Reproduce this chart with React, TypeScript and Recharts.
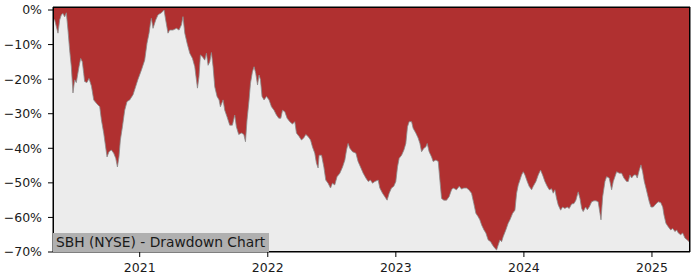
import { AreaChart, Area, XAxis, YAxis, ReferenceArea } from 'recharts';

// decimal year of each sample
const years = [
  2020.323, 2020.336, 2020.362, 2020.375, 2020.388, 2020.401, 2020.414, 2020.427, 2020.440, 2020.453,
  2020.466, 2020.479, 2020.492, 2020.505, 2020.526, 2020.539, 2020.552, 2020.563, 2020.570, 2020.588,
  2020.604, 2020.623, 2020.641, 2020.662, 2020.688, 2020.701, 2020.719, 2020.734, 2020.745, 2020.760,
  2020.779, 2020.797, 2020.813, 2020.826, 2020.838, 2020.849, 2020.865, 2020.883, 2020.901, 2020.922,
  2020.948, 2020.961, 2020.987, 2021.013, 2021.039, 2021.057, 2021.073, 2021.084, 2021.091, 2021.104,
  2021.125, 2021.143, 2021.170, 2021.190, 2021.203, 2021.221, 2021.234, 2021.260, 2021.287, 2021.307,
  2021.326, 2021.338, 2021.352, 2021.370, 2021.391, 2021.412, 2021.430, 2021.451, 2021.463, 2021.474,
  2021.490, 2021.508, 2021.521, 2021.534, 2021.547, 2021.560, 2021.573, 2021.586, 2021.604, 2021.620,
  2021.630, 2021.651, 2021.664, 2021.682, 2021.703, 2021.724, 2021.742, 2021.755, 2021.773, 2021.795,
  2021.813, 2021.826, 2021.838, 2021.854, 2021.865, 2021.880, 2021.893, 2021.906, 2021.920, 2021.932,
  2021.943, 2021.955, 2021.971, 2021.990, 2022.010, 2022.029, 2022.049, 2022.068, 2022.086, 2022.102,
  2022.115, 2022.133, 2022.151, 2022.172, 2022.193, 2022.211, 2022.224, 2022.245, 2022.263, 2022.281,
  2022.297, 2022.315, 2022.334, 2022.349, 2022.367, 2022.380, 2022.393, 2022.401, 2022.420, 2022.438,
  2022.453, 2022.471, 2022.490, 2022.505, 2022.523, 2022.541, 2022.563, 2022.584, 2022.602, 2022.615,
  2022.627, 2022.641, 2022.662, 2022.688, 2022.705, 2022.724, 2022.745, 2022.766, 2022.784, 2022.802,
  2022.818, 2022.836, 2022.862, 2022.875, 2022.896, 2022.914, 2022.932, 2022.948, 2022.966, 2022.984,
  2023.000, 2023.013, 2023.026, 2023.045, 2023.063, 2023.078, 2023.091, 2023.104, 2023.123, 2023.135,
  2023.156, 2023.174, 2023.188, 2023.201, 2023.219, 2023.234, 2023.245, 2023.260, 2023.279, 2023.291,
  2023.313, 2023.331, 2023.344, 2023.357, 2023.375, 2023.396, 2023.416, 2023.435, 2023.448, 2023.474,
  2023.495, 2023.513, 2023.531, 2023.552, 2023.570, 2023.591, 2023.609, 2023.625, 2023.643, 2023.656,
  2023.670, 2023.688, 2023.703, 2023.721, 2023.740, 2023.755, 2023.773, 2023.787, 2023.799, 2023.813,
  2023.826, 2023.838, 2023.859, 2023.877, 2023.891, 2023.912, 2023.930, 2023.943, 2023.956, 2023.969,
  2023.982, 2023.995, 2024.008, 2024.026, 2024.041, 2024.060, 2024.073, 2024.094, 2024.112, 2024.130,
  2024.146, 2024.164, 2024.182, 2024.198, 2024.216, 2024.229, 2024.242, 2024.255, 2024.268, 2024.287,
  2024.302, 2024.320, 2024.338, 2024.354, 2024.373, 2024.391, 2024.406, 2024.424, 2024.438, 2024.451,
  2024.463, 2024.482, 2024.495, 2024.510, 2024.529, 2024.547, 2024.563, 2024.580, 2024.594, 2024.602,
  2024.615, 2024.633, 2024.646, 2024.666, 2024.685, 2024.698, 2024.724, 2024.745, 2024.763, 2024.781,
  2024.802, 2024.815, 2024.828, 2024.841, 2024.859, 2024.875, 2024.885, 2024.901, 2024.914, 2024.927,
  2024.940, 2024.953, 2024.966, 2024.979, 2024.992, 2025.010, 2025.031, 2025.049, 2025.068, 2025.084,
  2025.094, 2025.109, 2025.127, 2025.146, 2025.162, 2025.180, 2025.193, 2025.206, 2025.224, 2025.240,
  2025.258, 2025.276, 2025.289, 2025.297,
];

// drawdown from running peak, in percent
const drawdown = [
  -2.4, -2.9, -6.7, -2.9, -1.4, -1.0, -2.0, -0.8, -5.8, -11.6,
  -16.4, -24.0, -20.2, -21.0, -16.4, -14.0, -15.0, -18.4, -20.7, -21.0,
  -19.8, -22.0, -26.0, -27.0, -28.0, -31.8, -35.6, -39.6, -42.5, -41.0,
  -40.5, -41.4, -42.9, -45.4, -42.5, -37.6, -33.8, -29.0, -26.5, -26.0,
  -24.5, -23.0, -20.0, -17.4, -14.5, -9.6, -6.7, -3.8, -2.4, -5.3,
  -2.9, -1.4, -0.8, 0.0, -2.9, -6.7, -5.8, -5.8, -5.3, -5.8,
  -4.3, -1.9, -6.7, -9.6, -12.5, -14.0, -16.4, -22.6, -19.3, -13.0,
  -13.5, -14.5, -12.5, -16.0, -15.0, -12.3, -16.4, -22.2, -25.0, -26.0,
  -28.0, -26.0, -29.0, -30.9, -33.3, -33.3, -30.4, -33.8, -36.0, -35.6,
  -36.0, -38.1, -31.8, -26.0, -21.2, -17.9, -16.4, -18.3, -21.7, -18.8,
  -20.2, -25.0, -26.0, -25.0, -26.0, -28.0, -29.0, -30.4, -31.3, -31.3,
  -29.0, -29.4, -31.3, -32.3, -33.0, -32.3, -35.6, -36.6, -37.6, -37.0,
  -36.0, -36.6, -37.6, -39.6, -41.4, -44.3, -45.7, -42.0, -42.0, -45.4,
  -49.2, -50.1, -51.5, -50.1, -50.6, -48.2, -47.2, -45.4, -43.4, -40.5,
  -38.6, -40.0, -41.0, -41.4, -43.8, -45.4, -47.2, -48.6, -49.6, -49.2,
  -50.1, -49.6, -49.2, -51.5, -53.0, -54.0, -55.0, -53.0, -51.5, -51.0,
  -49.6, -45.4, -42.9, -42.0, -40.5, -38.6, -33.8, -32.3, -32.3, -34.2,
  -35.6, -37.0, -38.6, -41.0, -40.0, -39.6, -38.6, -41.0, -42.5, -43.8,
  -43.4, -43.8, -49.2, -54.5, -55.0, -55.0, -54.0, -52.0, -51.5, -52.0,
  -51.0, -51.8, -51.5, -51.5, -52.0, -53.0, -56.0, -58.8, -59.8, -60.7,
  -62.2, -63.6, -64.5, -66.5, -67.0, -68.0, -68.9, -69.4, -68.0, -66.5,
  -67.0, -65.6, -63.6, -61.7, -60.7, -58.8, -57.9, -53.0, -50.6, -49.2,
  -47.7, -46.8, -47.7, -49.6, -51.0, -52.0, -51.0, -49.6, -47.7, -46.3,
  -47.7, -49.6, -51.0, -52.0, -51.7, -53.0, -52.0, -54.5, -56.4, -57.9,
  -57.0, -57.4, -57.0, -57.4, -56.1, -56.0, -55.0, -52.6, -54.5, -57.4,
  -58.3, -57.0, -57.8, -57.0, -55.5, -55.2, -55.2, -55.5, -58.8, -60.7,
  -54.0, -49.6, -48.2, -48.6, -52.0, -49.6, -46.8, -47.2, -47.2, -48.6,
  -49.6, -49.6, -47.7, -48.6, -47.7, -47.7, -48.6, -46.3, -44.8, -46.8,
  -49.6, -51.5, -53.5, -55.5, -57.0, -57.0, -56.1, -55.5, -55.7, -57.0,
  -59.3, -61.7, -62.7, -63.6, -63.2, -64.1, -63.6, -64.5, -65.0, -64.5,
  -66.0, -66.5, -67.0, -66.5,
];

const yearTicks = [2021, 2022, 2023, 2024, 2025];
const pctTicks = [0, -10, -20, -30, -40, -50, -60, -70];
const xDomain = [2020.323, 2025.297];
const yDomain = [-70, 0.87];
const title = 'SBH (NYSE) - Drawdown Chart';

const data = years.map((t, i) => ({ t, dd: drawdown[i] }));

const FONT = '"DejaVu Sans", sans-serif';
const tickStyle = { fontSize: 12.5, fill: '#1a1a1a', fontFamily: FONT };

const fmtPct = (v: number) => (v === 0 ? '0%' : `\u2212${Math.abs(v)}%`);

export default function App() {
  return (
    <div style={{ position: 'absolute', left: 0, top: 0, width: 700, height: 280, background: '#fff' }}>
      <AreaChart
        width={700}
        height={280}
        data={data}
        margin={{ top: 7, right: 10, bottom: 0, left: 0 }}
      >
        <XAxis
          dataKey="t"
          type="number"
          domain={xDomain}
          ticks={yearTicks}
          tickFormatter={v => String(v)}
          height={28}
          tick={tickStyle}
          tickSize={5}
          tickMargin={6}
          axisLine={false}
          tickLine={{ stroke: '#000' }}
          allowDataOverflow
        />
        <YAxis
          type="number"
          domain={yDomain}
          ticks={pctTicks}
          tickFormatter={fmtPct}
          width={53}
          tick={tickStyle}
          tickSize={5}
          tickMargin={6}
          axisLine={false}
          tickLine={{ stroke: '#000' }}
          allowDataOverflow
        />
        {/* axes background */}
        <ReferenceArea
          x1={xDomain[0]}
          x2={xDomain[1]}
          y1={yDomain[0]}
          y2={yDomain[1]}
          fill="#ececec"
          fillOpacity={1}
          stroke="#000"
          strokeWidth={1}
          ifOverflow="visible"
        />
        <Area
          type="linear"
          dataKey="dd"
          baseValue="dataMax"
          fill="#b03030"
          fillOpacity={1}
          stroke="#8a8a8a"
          strokeWidth={0.8}
          dot={false}
          activeDot={false}
          isAnimationActive={false}
        />
      </AreaChart>
      <div
        style={{
          position: 'absolute',
          left: 53,
          top: 7,
          width: 637,
          height: 245,
          border: '1px solid #000',
          boxSizing: 'border-box',
          pointerEvents: 'none',
        }}
      />
      <div
        style={{
          position: 'absolute',
          left: 53,
          top: 233,
          width: 216,
          height: 19,
          background: '#b0b0b0',
          fontFamily: FONT,
          fontSize: 13.8,
          lineHeight: '19px',
          color: '#1a1a1a',
          paddingLeft: 3,
          boxSizing: 'border-box',
          whiteSpace: 'nowrap',
        }}
      >
        {title}
      </div>
    </div>
  );
}
